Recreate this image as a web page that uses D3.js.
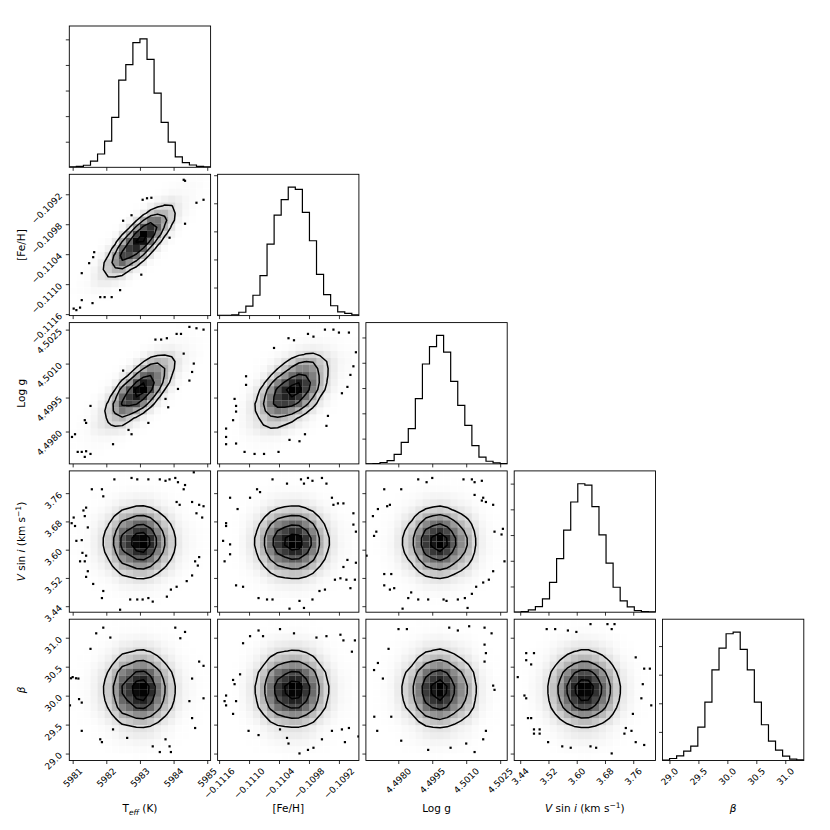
<!DOCTYPE html>
<html>
<head>
<meta charset="utf-8">
<script src="https://cdn.jsdelivr.net/npm/d3@7"></script>
<style>
  body { margin: 0; background: #fff; }
  svg { display: block; }
  text { font-family: "DejaVu Sans", sans-serif; fill: #000; }
</style>
</head>
<body>
<svg id="chart" width="830" height="830"></svg>
<script>
// Parameters, in column / row order
const paramNames = ["teff", "feh", "logg", "vsini", "beta"]
const ranges = [[5980.90, 5985.10], [-0.11163, -0.10880], [4.49657, 4.50281], [3.423, 3.823], [28.88, 31.32]]
const tickValues = [
    [5981, 5982, 5983, 5984, 5985],
    [-0.1116, -0.1110, -0.1104, -0.1098, -0.1092],
    [4.4980, 4.4995, 4.5010, 4.5025],
    [3.44, 3.52, 3.60, 3.68, 3.76],
    [29.0, 29.5, 30.0, 30.5, 31.0]
]
const tickDigits = [0, 4, 4, 2, 1]

// 1D histograms (20 bins over each range), counts
const teffCounts  = [3, 8, 16, 49, 104, 205, 390, 681, 803, 974, 1004, 844, 579, 351, 197, 81, 36, 18, 8, 3]
const fehCounts   = [1, 1, 5, 24, 67, 145, 285, 509, 716, 826, 915, 899, 736, 533, 294, 150, 70, 27, 16, 5]
const loggCounts  = [1, 3, 11, 26, 76, 171, 279, 516, 790, 927, 1016, 884, 653, 463, 305, 145, 53, 21, 8, 3]
const vsiniCounts = [1, 5, 18, 44, 103, 232, 416, 638, 857, 999, 989, 821, 601, 382, 194, 88, 41, 13, 5, 3]
const betaCounts  = [2, 14, 33, 65, 100, 233, 408, 634, 786, 886, 898, 777, 634, 408, 250, 135, 72, 30, 9, 5]

// correlation seen in the 2D panels (others look uncorrelated)
const rhoTeffFeh = 0.80
const rhoTeffLogg = 0.71
const rhoFehLogg = 0.50

// outlying samples drawn as dots, [x, y] in data units
const dotsTeffFeh = [[5984.30,-0.10891],[5984.34,-0.10893],[5984.89,-0.10931],[5984.68,-0.10937],[5983.08,-0.10931],[5983.21,-0.10928],[5983.34,-0.10927],[5982.50,-0.10973],[5982.75,-0.10962],[5984.34,-0.10979],[5981.64,-0.11036],[5981.49,-0.11058],[5981.27,-0.11078],[5981.61,-0.11046],[5981.82,-0.11126],[5981.95,-0.11126],[5982.16,-0.11126],[5981.59,-0.11138],[5981.27,-0.11132],[5981.03,-0.11149],[5981.11,-0.11152],[5981.22,-0.11147],[5983.04,-0.11081],[5982.41,-0.11112],[5983.88,-0.11007]]
const dotsTeffLogg = [[5984.47,4.50262],[5984.68,4.50256],[5984.89,4.50250],[5984.09,4.50231],[5984.22,4.50231],[5983.46,4.50206],[5983.63,4.50206],[5983.80,4.50212],[5984.30,4.50144],[5984.60,4.50100],[5984.55,4.50063],[5984.47,4.50025],[5984.13,4.49988],[5983.76,4.49944],[5983.84,4.49907],[5983.25,4.49838],[5982.66,4.49807],[5982.75,4.49788],[5981.53,4.49913],[5981.36,4.49850],[5981.40,4.49838],[5981.07,4.49788],[5980.98,4.49776],[5981.15,4.49710],[5981.27,4.49710],[5981.40,4.49713],[5981.53,4.49701],[5981.36,4.49688],[5982.20,4.49744],[5982.50,4.50069]]
const dotsFehLogg = [[-0.10982,4.50231],[-0.10971,4.50219],[-0.11021,4.50212],[-0.11010,4.50203],[-0.10948,4.50250],[-0.10931,4.50250],[-0.10920,4.50237],[-0.10900,4.50237],[-0.10886,4.50150],[-0.10891,4.50088],[-0.10897,4.50050],[-0.10903,4.49997],[-0.10914,4.49969],[-0.10942,4.49869],[-0.10945,4.49825],[-0.10988,4.49788],[-0.10999,4.49757],[-0.11019,4.49763],[-0.11041,4.49710],[-0.11070,4.49701],[-0.11089,4.49701],[-0.11109,4.49710],[-0.11126,4.49747],[-0.11146,4.49744],[-0.11146,4.49776],[-0.11126,4.49913],[-0.11129,4.49944],[-0.11126,4.49888],[-0.11132,4.49850],[-0.11106,4.50044],[-0.11106,4.50006],[-0.11050,4.50169],[-0.11146,4.49813]]
const dotsTeffVsini = [[5982.24,3.799],[5982.75,3.803],[5982.92,3.799],[5983.25,3.799],[5983.59,3.799],[5983.76,3.795],[5983.88,3.799],[5984.05,3.803],[5984.13,3.791],[5984.60,3.819],[5984.34,3.783],[5984.30,3.771],[5981.57,3.771],[5981.87,3.771],[5981.91,3.751],[5981.40,3.719],[5981.32,3.711],[5981.36,3.695],[5981.03,3.691],[5980.97,3.675],[5981.07,3.667],[5981.45,3.663],[5981.27,3.627],[5981.11,3.625],[5981.29,3.591],[5981.40,3.583],[5981.22,3.567],[5981.36,3.567],[5981.45,3.539],[5981.40,3.523],[5981.61,3.503],[5981.91,3.483],[5981.87,3.463],[5982.41,3.430],[5982.71,3.459],[5982.92,3.459],[5983.08,3.459],[5983.25,3.463],[5983.38,3.453],[5983.80,3.467],[5983.92,3.487],[5984.09,3.495],[5984.39,3.511],[5984.55,3.527],[5984.64,3.567],[5984.72,3.555],[5984.76,3.579],[5984.85,3.691],[5984.68,3.703],[5984.55,3.735],[5984.76,3.727],[5984.09,3.735],[5984.18,3.727],[5984.89,3.723]]
const dotsFehVsini = [[-0.11053,3.799],[-0.11024,3.787],[-0.10996,3.799],[-0.10982,3.803],[-0.10973,3.795],[-0.10954,3.803],[-0.10945,3.787],[-0.10990,3.787],[-0.11084,3.771],[-0.11078,3.763],[-0.11098,3.747],[-0.11138,3.747],[-0.11123,3.715],[-0.10934,3.747],[-0.10931,3.727],[-0.10922,3.731],[-0.10911,3.731],[-0.10891,3.703],[-0.10891,3.671],[-0.11146,3.675],[-0.11146,3.667],[-0.11152,3.625],[-0.11138,3.615],[-0.11149,3.567],[-0.11138,3.587],[-0.10886,3.651],[-0.10886,3.563],[-0.10903,3.571],[-0.10911,3.551],[-0.10917,3.519],[-0.10928,3.515],[-0.10905,3.515],[-0.10897,3.491],[-0.10888,3.515],[-0.11126,3.499],[-0.11112,3.495],[-0.11081,3.463],[-0.11064,3.459],[-0.11053,3.459],[-0.11019,3.433],[-0.10999,3.455],[-0.10990,3.435],[-0.10973,3.459],[-0.10959,3.483],[-0.10948,3.487]]
const dotsLoggVsini = [[4.49738,3.771],[4.49813,3.771],[4.49888,3.799],[4.49925,3.791],[4.49950,3.803],[4.50088,3.799],[4.50125,3.799],[4.50137,3.791],[4.50169,3.795],[4.50137,3.755],[4.50175,3.747],[4.50187,3.735],[4.50169,3.739],[4.50219,3.727],[4.49763,3.727],[4.49751,3.723],[4.49710,3.715],[4.49688,3.695],[4.49703,3.651],[4.49693,3.639],[4.49660,3.583],[4.50225,3.651],[4.50256,3.643],[4.50262,3.659],[4.50269,3.567],[4.50219,3.539],[4.50200,3.515],[4.50175,3.507],[4.50144,3.495],[4.50125,3.475],[4.50094,3.463],[4.50063,3.459],[4.49738,3.531],[4.49769,3.531],[4.49738,3.499],[4.49763,3.487],[4.49782,3.491],[4.49857,3.479],[4.49844,3.463],[4.49888,3.459],[4.49932,3.459],[4.50000,3.459],[4.50013,3.455],[4.49819,3.433],[4.50106,3.435]]
const dotsTeffBeta = [[5981.91,31.174],[5982.12,31.003],[5984.05,31.174],[5984.34,31.100],[5981.53,30.808],[5984.76,30.588],[5984.89,30.515],[5984.55,30.295],[5981.00,30.320],[5981.17,30.295],[5980.92,29.832],[5981.27,29.880],[5981.27,29.392],[5981.82,29.246],[5981.87,29.197],[5982.20,29.417],[5982.62,29.270],[5983.59,29.026],[5983.92,29.026],[5983.76,29.246],[5984.47,29.905],[5984.55,29.612],[5984.89,29.954],[5981.70,31.076],[5984.20,30.991],[5980.95,30.300],[5981.10,30.300],[5981.19,29.940],[5983.38,29.124],[5983.88,29.124],[5984.64,29.441]]
const dotsFehBeta = [[-0.11081,31.125],[-0.11072,31.027],[-0.11038,31.149],[-0.11010,31.076],[-0.10965,31.003],[-0.10945,31.027],[-0.10917,31.052],[-0.10911,30.954],[-0.10888,30.954],[-0.10894,30.759],[-0.11112,30.905],[-0.11098,31.027],[-0.11118,30.368],[-0.11132,30.271],[-0.11129,30.198],[-0.11146,30.002],[-0.11149,29.905],[-0.11146,29.832],[-0.11126,29.905],[-0.11132,29.685],[-0.11101,29.392],[-0.11081,29.319],[-0.11038,29.417],[-0.11024,29.270],[-0.11021,29.173],[-0.10982,29.063],[-0.10971,29.100],[-0.10999,29.002],[-0.10954,29.246],[-0.10934,29.392],[-0.10914,29.417],[-0.10908,29.197],[-0.10900,29.441],[-0.10881,29.295]]
const dotsLoggBeta = [[4.49801,31.149],[4.49838,31.149],[4.50025,31.174],[4.50063,31.125],[4.50113,31.198],[4.50181,31.174],[4.50212,31.076],[4.49757,30.808],[4.49710,30.564],[4.49693,30.442],[4.49732,30.295],[4.50181,30.881],[4.50187,30.734],[4.50181,30.588],[4.50219,30.173],[4.50225,30.100],[4.49694,29.636],[4.49707,29.392],[4.49813,29.222],[4.49769,29.636],[4.49932,29.063],[4.50031,29.100],[4.50137,29.026],[4.50187,29.392],[4.50175,29.246],[4.50100,29.173]]
const dotsVsiniBeta = [[3.515,31.149],[3.539,31.149],[3.575,31.125],[3.639,31.235],[3.687,31.235],[3.707,31.235],[3.699,31.149],[3.599,31.100],[3.457,30.734],[3.479,30.734],[3.457,30.612],[3.471,30.539],[3.433,30.320],[3.452,30.002],[3.457,29.954],[3.462,29.612],[3.471,29.612],[3.479,29.417],[3.495,29.417],[3.479,29.344],[3.495,29.344],[3.519,29.197],[3.559,29.124],[3.583,29.100],[3.639,29.124],[3.655,29.100],[3.699,29.002],[3.735,29.344],[3.739,29.441],[3.755,29.392],[3.767,29.197],[3.791,29.148],[3.759,29.685],[3.767,30.661],[3.791,30.466],[3.807,30.466],[3.787,30.198],[3.811,29.832],[3.783,29.954]]

// corner's default levels: 0.5, 1, 1.5, 2 sigma
const sigmaLevels = [0.5, 1.0, 1.5, 2.0]

const hists = [teffCounts, fehCounts, loggCounts, vsiniCounts, betaCounts]
const rhoOf = {"1,0": rhoTeffFeh, "2,0": rhoTeffLogg, "2,1": rhoFehLogg}
const dotsOf = {
    "1,0": dotsTeffFeh, "2,0": dotsTeffLogg, "2,1": dotsFehLogg,
    "3,0": dotsTeffVsini, "3,1": dotsFehVsini, "3,2": dotsLoggVsini,
    "4,0": dotsTeffBeta, "4,1": dotsFehBeta, "4,2": dotsLoggBeta, "4,3": dotsVsiniBeta
}

const LEFT = 69.3, TOP = 26, SIZE = 141.3, STEP = 148.3
const NB = 20
const TICK_FS = 9, LABEL_FS = 10.5
const CAP = 0.73 * TICK_FS

const svg = d3.select("#chart")

function stats(counts, range) {
    const bw = (range[1] - range[0]) / counts.length
    const n = d3.sum(counts)
    const centers = counts.map((_, i) => range[0] + (i + 0.5) * bw)
    const mean = d3.sum(counts, (c, i) => c * centers[i]) / n
    const sd = Math.sqrt(d3.sum(counts, (c, i) => c * (centers[i] - mean) ** 2) / n)
    return {bw, centers, mean, sd}
}
const st = hists.map((h, i) => stats(h, ranges[i]))

function fmt(i, v) {
    return d3.format(`.${tickDigits[i]}f`)(v)
}

// 2D histogram: product of the two marginals with a gaussian copula
function grid2d(ix, iy) {
    const rho = rhoOf[`${iy},${ix}`] || 0
    const sx = st[ix], sy = st[iy]
    const vals = new Array(NB * NB)
    for (let b = 0; b < NB; b++) {
        for (let a = 0; a < NB; a++) {
            const u = (sx.centers[a] - sx.mean) / sx.sd
            const v = (sy.centers[b] - sy.mean) / sy.sd
            const cop = Math.exp(-(rho * rho * (u * u + v * v) - 2 * rho * u * v) / (2 * (1 - rho * rho))) / Math.sqrt(1 - rho * rho)
            vals[b * NB + a] = hists[ix][a] * hists[iy][b] * cop
        }
    }
    return vals
}

function levelsFor(vals) {
    const flat = vals.slice().sort((p, q) => q - p)
    const total = d3.sum(flat)
    let cum = 0
    const sm = flat.map(v => (cum += v) / total)
    const V = sigmaLevels.map(s => {
        const lvl = 1 - Math.exp(-0.5 * s * s)
        let val = flat[0]
        for (let k = 0; k < flat.length; k++) if (sm[k] <= lvl) val = flat[k]
        return val
    })
    return V.sort((p, q) => p - q)
}

function drawTicksBottom(g, x, values) {
    g.append("g")
     .attr("transform", `translate(0,${SIZE})`)
     .call(d3.axisBottom(x).tickValues(values).tickSize(3.5).tickFormat(""))
     .call(s => s.select(".domain").remove())
     .call(s => s.selectAll("line").attr("stroke", "#000").attr("stroke-width", 0.8))
}

function drawTicksLeft(g, y, values) {
    g.append("g")
     .call(d3.axisLeft(y).tickValues(values).tickSize(3.5).tickFormat(""))
     .call(s => s.select(".domain").remove())
     .call(s => s.selectAll("line").attr("stroke", "#000").attr("stroke-width", 0.8))
}

for (let r = 0; r < 5; r++) {
    for (let c = 0; c <= r; c++) {
        const g = svg.append("g").attr("transform", `translate(${LEFT + STEP * c},${TOP + STEP * r})`)
        const clipId = `clip-${r}-${c}`
        g.append("clipPath").attr("id", clipId)
         .append("rect").attr("width", SIZE).attr("height", SIZE)
        const body = g.append("g").attr("clip-path", `url(#${clipId})`)
        const x = d3.scaleLinear(ranges[c], [0, SIZE])

        if (r === c) {
            // diagonal histogram
            const counts = hists[c]
            const ymax = 1.1 * d3.max(counts)
            const y = d3.scaleLinear([0, ymax], [SIZE, 0])
            const edges = d3.range(NB + 1).map(k => ranges[c][0] + k * st[c].bw)
            const pts = [[edges[0], 0]]
            counts.forEach((cnt, k) => pts.push([edges[k], cnt]))
            pts.push([edges[NB], counts[NB - 1]], [edges[NB], 0])
            const line = d3.line().x(d => x(d[0])).y(d => y(d[1])).curve(d3.curveStepAfter)
            body.append("path").attr("d", line(pts))
                .attr("fill", "none").attr("stroke", "#000").attr("stroke-width", 1.2)
            drawTicksLeft(g, y, d3.range(200, ymax, 200))
        } else {
            const y = d3.scaleLinear(ranges[r], [SIZE, 0])
            const vals = grid2d(c, r)
            const hmax = d3.max(vals)

            // samples in the low-density tails
            body.append("g").selectAll("rect")
                .data(dotsOf[`${r},${c}`])
                .join("rect")
                .attr("x", d => x(d[0]) - 1.1)
                .attr("y", d => y(d[1]) - 1.1)
                .attr("width", 2.2).attr("height", 2.2)
                .attr("fill", "#000")

            // density cells: black with alpha rising with density
            const cells = []
            for (let b = 0; b < NB; b++)
                for (let a = 0; a < NB; a++)
                    cells.push({a, b, t: vals[b * NB + a] / hmax})
            const bx = st[c].bw, by = st[r].bw
            body.append("g").selectAll("rect")
                .data(cells.filter(d => d.t > 0.002))
                .join("rect")
                .attr("x", d => x(ranges[c][0] + d.a * bx))
                .attr("y", d => y(ranges[r][0] + (d.b + 1) * by))
                .attr("width", d => x(ranges[c][0] + (d.a + 1) * bx) - x(ranges[c][0] + d.a * bx))
                .attr("height", d => y(ranges[r][0] + d.b * by) - y(ranges[r][0] + (d.b + 1) * by))
                .attr("fill", "#000")
                .attr("fill-opacity", d => d.t)

            // contours
            const V = levelsFor(vals)
            const contours = d3.contours().size([NB, NB]).thresholds(V)(vals)
            const proj = d3.geoTransform({
                point(gx, gy) {
                    this.stream.point(x(ranges[c][0] + gx * bx), y(ranges[r][0] + gy * by))
                }
            })
            body.append("g").selectAll("path")
                .data(contours)
                .join("path")
                .attr("d", d3.geoPath(proj))
                .attr("fill", "none").attr("stroke", "#000").attr("stroke-width", 1.5)
                .attr("stroke-linejoin", "round")

            drawTicksLeft(g, y, tickValues[r])
        }

        drawTicksBottom(g, x, tickValues[c])

        g.append("rect").attr("width", SIZE).attr("height", SIZE)
         .attr("fill", "none").attr("stroke", "#000").attr("stroke-width", 0.9)

        // rotated tick labels on the outer edges
        if (r === 4) {
            tickValues[c].forEach(v => {
                const t = g.append("text").attr("font-size", TICK_FS).attr("text-anchor", "end").text(fmt(c, v))
                const w = t.node().getComputedTextLength()
                const px = x(v) + 0.354 * (w + CAP)
                const py = SIZE + 6.5 + 0.707 * CAP
                t.attr("transform", `translate(${px},${py}) rotate(-45)`)
            })
        }
        if (c === 0 && r > 0) {
            const y = d3.scaleLinear(ranges[r], [SIZE, 0])
            tickValues[r].forEach(v => {
                g.append("text").attr("font-size", TICK_FS).attr("text-anchor", "end")
                 .attr("transform", `translate(-6.5,${y(v) + 2.5}) rotate(-45)`)
                 .text(fmt(r, v))
            })
        }
    }
}

// axis labels
function writeLabel(sel, i) {
    if (i === 0) {
        sel.append("tspan").text("T")
        sel.append("tspan").attr("font-style", "italic").attr("font-size", LABEL_FS * 0.72).attr("dy", 2.5).text("eff")
        sel.append("tspan").attr("dy", -2.5).text(" (K)")
    } else if (i === 1) {
        sel.text("[Fe/H]")
    } else if (i === 2) {
        sel.text("Log g")
    } else if (i === 3) {
        sel.append("tspan").attr("font-style", "italic").text("V")
        sel.append("tspan").text(" sin ")
        sel.append("tspan").attr("font-style", "italic").text("i")
        sel.append("tspan").text(" (km s")
        sel.append("tspan").attr("font-size", LABEL_FS * 0.72).attr("dy", -4).text("\u22121")
        sel.append("tspan").attr("dy", 4).text(")")
    } else {
        sel.append("tspan").attr("font-style", "italic").text("\u03b2")
    }
}

for (let i = 0; i < 5; i++) {
    const t = svg.append("text").attr("font-size", LABEL_FS).attr("text-anchor", "middle")
                 .attr("x", LEFT + STEP * i + SIZE / 2).attr("y", 812)
    writeLabel(t, i)
}
for (let i = 1; i < 5; i++) {
    const t = svg.append("text").attr("font-size", LABEL_FS).attr("text-anchor", "middle")
                 .attr("transform", `translate(25,${TOP + STEP * i + SIZE / 2}) rotate(-90)`)
    writeLabel(t, i)
}
</script>
</body>
</html>
